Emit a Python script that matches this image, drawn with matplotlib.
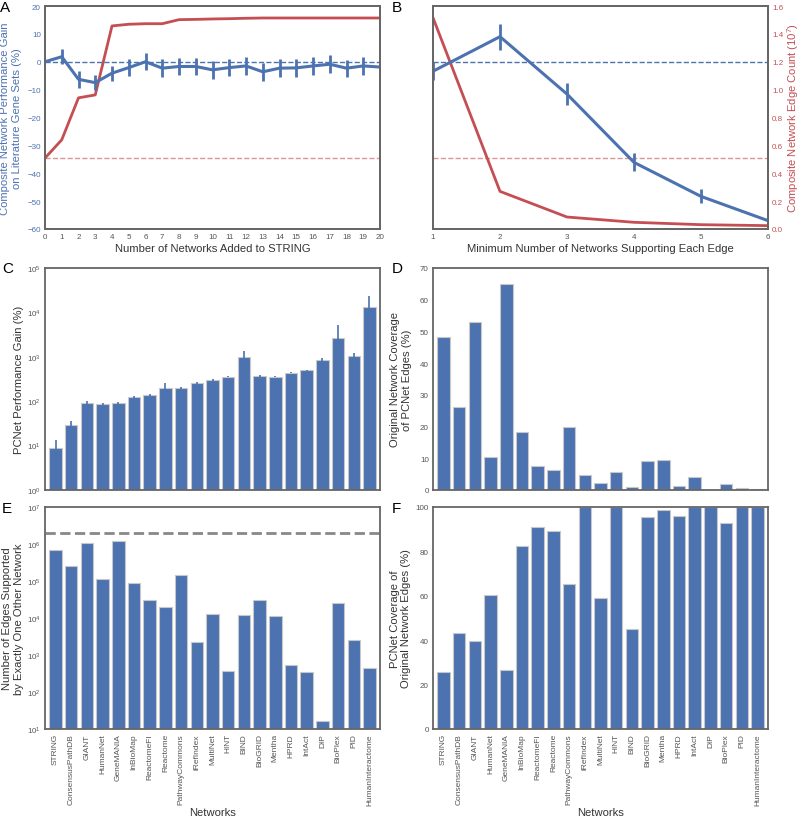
import matplotlib
matplotlib.use("Agg")
import matplotlib.pyplot as plt
import numpy as np

plt.rcParams['font.family'] = ['Liberation Sans', 'DejaVu Sans']
plt.rcParams['mathtext.fontset'] = 'custom'
plt.rcParams['mathtext.rm'] = 'Liberation Sans'

BLUE = '#4C72B0'
RED = '#C44E52'
GRAY = '#555555'
SPINE = '#666666'
LABEL_FS = 8.1
TICK_FS = 5.8
NAME_FS = 6.0

# ---- Panel A data ----
a_x = list(range(0, 21))
a_gain = [0, 1.8, -6.3, -7.5, -4.1, -2.1, 0.0, -2.3, -1.7, -1.7, -2.9, -2.1, -1.5, -3.6, -2.3, -2.2, -1.5, -0.9, -2.3, -1.5, -1.9]
a_err = [0, 2.7, 3.0, 2.8, 2.7, 3.0, 3.1, 3.2, 3.2, 3.2, 3.2, 3.0, 3.1, 3.2, 3.2, 3.2, 3.1, 3.2, 3.0, 3.2, 3.2]
a_edges = [0.509, 0.640, 0.941, 0.962, 1.457, 1.469, 1.473, 1.473, 1.502, 1.504, 1.507, 1.509, 1.512,
           1.514, 1.514, 1.514, 1.514, 1.514, 1.514, 1.514, 1.514]

# ---- Panel B data ----
b_x = [1, 2, 3, 4, 5, 6]
b_gain = [-3.4, 9.0, -11.6, -36.1, -48.3, -57.0]
b_err = [3.3, 4.7, 4.0, 3.2, 2.5, 2.2]
b_edges = [1.516, 0.270, 0.086, 0.048, 0.031, 0.024]

string_edges = 0.511  # STRING edge count (10^7)

# ---- Network bar data ----
networks = ['STRING', 'ConsensusPathDB', 'GIANT', 'HumanNet', 'GeneMANIA', 'InBioMap', 'ReactomeFI',
            'Reactome', 'PathwayCommons', 'iRefIndex', 'MultiNet', 'HINT', 'BIND', 'BioGRID', 'Mentha',
            'HPRD', 'IntAct', 'DIP', 'BioPlex', 'PID', 'HumanInteractome']
c_gain = [8.8, 29.6, 89.5, 86, 89.5, 124, 138, 202, 202, 253, 295, 357, 1007, 370, 357, 439, 496,
          832, 2698, 1061, 13000]
c_err = [4.6, 5.5, 9.5, 5, 6, 8, 5, 50, 10, 15, 15, 15, 320, 10, 10, 15, 20, 110, 2500, 140, 10400]
d_cov = [48.4, 26.3, 53.1, 10.5, 65.0, 18.3, 7.5, 6.3, 19.8, 4.8, 2.3, 5.6, 1.0, 9.0, 9.4, 1.25, 4.1,
         0.1, 1.8, 0.7, 0.4]
e_unique = [7.0e5, 2.59e5, 1.06e6, 1.13e5, 1.23e6, 8.8e4, 3.05e4, 2.01e4, 1.45e5, 2316, 1.25e4, 372,
            1.22e4, 3.11e4, 1.12e4, 541, 357, 16.5, 2.58e4, 2517, 439]
e_total = 1.95e6
f_cov = [25.7, 43.4, 39.7, 60.4, 26.7, 82.5, 91.0, 89.4, 65.1, 100, 59.1, 100, 45.1, 95.7, 98.8, 96.1,
         100, 100, 92.9, 100, 100]

fig = plt.figure(figsize=(8, 8.2), dpi=100)
W, H = 800, 820


def add_ax(l, t, r, b):
    return fig.add_axes([l / W, (H - b) / H, (r - l) / W, (b - t) / H])


def style(ax):
    for s in ax.spines.values():
        s.set_color(SPINE)
        s.set_linewidth(1.3)
    ax.tick_params(length=0, labelsize=TICK_FS, colors=GRAY, pad=3)


axA = add_ax(45, 7, 380, 230)
axB = add_ax(433, 7, 768, 230)
axC = add_ax(45, 269, 380, 491)
axD = add_ax(433, 269, 768, 491)
axE = add_ax(45, 508, 380, 730)
axF = add_ax(433, 508, 768, 730)

TXT = '#333333'

# ---------- A ----------
axA2 = axA.twinx()
axA2.plot(a_x, a_edges, color=RED, lw=2)
axA2.axhline(string_edges, color=RED, ls='--', lw=1, alpha=0.6)
axA2.set_ylim(0, 1.6)
axA2.set_yticks([])
axA.set_zorder(axA2.get_zorder() + 1)
axA.patch.set_visible(False)
axA.axhline(0, color=BLUE, ls='--', lw=1)
axA.errorbar(a_x, a_gain, yerr=a_err, color=BLUE, lw=2.2, elinewidth=2, capsize=0)
axA.set_xlim(0, 20)
axA.set_ylim(-60, 20)
axA.set_xticks(a_x)
axA.set_yticks(np.arange(-60, 21, 10))
style(axA)
style(axA2)
axA.tick_params(axis='y', colors=BLUE)
axA.set_ylabel('Composite Network Performance Gain\non Literature Gene Sets (%)', color=BLUE,
               fontsize=LABEL_FS, labelpad=4)
axA.set_xlabel('Number of Networks Added to STRING', fontsize=LABEL_FS, color=TXT, labelpad=2)

# ---------- B ----------
axB2 = axB.twinx()
axB2.plot(b_x, b_edges, color=RED, lw=2)
axB2.axhline(string_edges, color=RED, ls='--', lw=1, alpha=0.6)
axB2.set_ylim(0, 1.6)
axB2.set_yticks(np.arange(0, 1.61, 0.2))
axB2.set_yticklabels([f'{v:.1f}' for v in np.arange(0, 1.61, 0.2)])
axB.set_zorder(axB2.get_zorder() + 1)
axB.patch.set_visible(False)
axB.axhline(0, color=BLUE, ls='--', lw=1)
axB.errorbar(b_x, b_gain, yerr=b_err, color=BLUE, lw=2.2, elinewidth=2, capsize=0)
axB.set_xlim(1, 6)
axB.set_ylim(-60, 20)
axB.set_yticks([])
axB.set_xticks(b_x)
style(axB)
style(axB2)
axB2.tick_params(axis='y', colors=RED)
axB2.set_ylabel('Composite Network Edge Count (10$^7$)', color=RED, fontsize=LABEL_FS, labelpad=1)
axB.set_xlabel('Minimum Number of Networks Supporting Each Edge', fontsize=LABEL_FS, color=TXT, labelpad=2)

xpos = np.arange(len(networks))
bar_kw = dict(width=0.8, color=BLUE, edgecolor='#c8c8c8', linewidth=0.8)

# ---------- C ----------
axC.bar(xpos, c_gain, **bar_kw)
axC.errorbar(xpos, c_gain, yerr=c_err, fmt='none', ecolor=BLUE, elinewidth=1.2, capsize=0)
axC.set_yscale('log')
axC.set_ylim(1, 1e5)
axC.set_xlim(-0.67, 20.67)
axC.set_xticks([])
style(axC)
axC.minorticks_off()
axC.set_ylabel('PCNet Performance Gain (%)', fontsize=LABEL_FS, color=TXT, labelpad=2)

# ---------- D ----------
axD.bar(xpos, d_cov, **bar_kw)
axD.set_ylim(0, 70)
axD.set_xlim(-0.67, 20.67)
axD.set_xticks([])
style(axD)
axD.set_ylabel('Original Network Coverage\nof PCNet Edges (%)', fontsize=LABEL_FS, color=TXT, labelpad=6)

# ---------- E ----------
axE.bar(xpos, e_unique, **bar_kw)
axE.axhline(e_total, color='#888888', ls='--', lw=2)
axE.set_yscale('log')
axE.set_ylim(10, 1e7)
axE.set_xlim(-0.67, 20.67)
axE.set_xticks(xpos)
axE.set_xticklabels(networks, rotation=90)
style(axE)
axE.tick_params(axis='x', labelsize=NAME_FS)
axE.minorticks_off()
axE.set_ylabel('Number of Edges Supported\nby Exactly One Other Network', fontsize=LABEL_FS, color=TXT,
               labelpad=2)
axE.set_xlabel('Networks', fontsize=LABEL_FS, color=TXT, labelpad=2)

# ---------- F ----------
axF.bar(xpos, f_cov, **bar_kw)
axF.set_ylim(0, 100)
axF.set_xlim(-0.67, 20.67)
axF.set_xticks(xpos)
axF.set_xticklabels(networks, rotation=90)
style(axF)
axF.tick_params(axis='x', labelsize=NAME_FS)
axF.set_ylabel('PCNet Coverage of\nOriginal Network Edges (%)', fontsize=LABEL_FS, color=TXT, labelpad=3)
axF.set_xlabel('Networks', fontsize=LABEL_FS, color=TXT, labelpad=2)

for lab, x, y in [('A', 0, 1), ('B', 392, 1), ('C', 2, 262), ('D', 392, 262), ('E', 2, 502), ('F', 392, 502)]:
    fig.text(x / W, 1 - y / H, lab, fontsize=11, va='top', ha='left', color='black')

fig.savefig('out.png', dpi=100)
